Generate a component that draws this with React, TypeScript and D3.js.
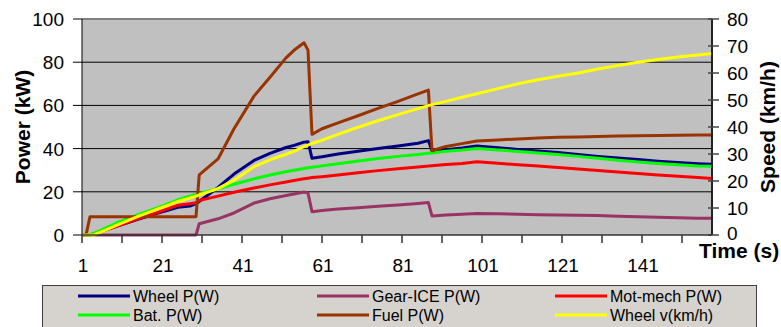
import React, { useEffect, useRef } from "react";
import * as d3 from "d3";

// time stamps (s) shared by all series
const seconds = [1, 2, 3, 4, 10, 15, 20, 25, 28, 29.5, 30.3, 35, 39, 44, 48, 52, 54, 56.5, 57.5, 58.5, 61, 65, 70, 75, 80, 85, 87.6, 88.5, 92, 96, 99.7, 105, 110, 115, 120, 125, 130, 135, 140, 145, 150, 155, 158.5];

// power series (kW)
const wheelP = [0, 0, 0, 0.6, 4.2, 7.3, 10.2, 12.8, 13.4, 14.5, 15.5, 22.0, 28.2, 34.5, 37.8, 40.5, 41.5, 43.0, 43.2, 35.5, 36.2, 37.5, 38.8, 40.0, 41.2, 42.5, 43.7, 39.0, 39.5, 40.3, 41.2, 40.4, 39.6, 38.9, 38.2, 37.3, 36.4, 35.6, 34.9, 34.2, 33.6, 33.0, 32.7];
const gearP = [0, 0, 0, 0, 0, 0, 0, 0, 0, 0, 5.2, 7.5, 10.2, 14.8, 16.8, 18.3, 19.0, 19.9, 19.4, 10.8, 11.3, 12.0, 12.6, 13.3, 13.9, 14.6, 15.0, 8.8, 9.3, 9.6, 10.0, 9.8, 9.6, 9.4, 9.3, 9.2, 9.0, 8.7, 8.4, 8.2, 8.0, 7.8, 7.7];
const motP = [0, 0, 0, 0.6, 4.3, 7.5, 10.5, 13.8, 14.5, 14.9, 16.0, 18.0, 19.8, 21.8, 23.2, 24.5, 25.2, 26.0, 26.3, 26.6, 27.0, 27.8, 28.8, 29.8, 30.7, 31.5, 31.9, 32.1, 32.6, 33.1, 33.9, 33.2, 32.5, 31.9, 31.3, 30.6, 29.9, 29.2, 28.5, 27.8, 27.2, 26.6, 26.2];
const batP = [0, 0, 0, 0.8, 5.8, 9.4, 12.7, 16.3, 18.0, 18.8, 19.2, 21.4, 23.5, 26.0, 27.8, 29.3, 30.0, 30.8, 31.1, 31.4, 32.0, 33.0, 34.3, 35.4, 36.4, 37.3, 37.8, 38.0, 38.8, 39.3, 40.0, 39.4, 38.7, 38.0, 37.3, 36.4, 35.5, 34.6, 33.8, 33.1, 32.5, 32.0, 31.8];
const fuelP = [0, 0, 8.5, 8.5, 8.5, 8.5, 8.5, 8.5, 8.5, 8.5, 27.8, 35.2, 49.2, 64.3, 73.0, 82.0, 85.5, 89.0, 85.6, 46.6, 49.2, 51.9, 55.2, 58.6, 61.9, 65.3, 67.1, 39.0, 41.0, 42.3, 43.5, 44.0, 44.5, 44.9, 45.2, 45.4, 45.6, 45.8, 46.0, 46.1, 46.2, 46.3, 46.3];

// speed series (km/h), secondary axis
const wheelV = [0, 0, 0, 0, 3.8, 6.9, 9.7, 12.4, 13.7, 14.4, 14.8, 17.2, 20.3, 25.3, 27.8, 29.9, 31.0, 32.7, 33.3, 33.9, 35.1, 37.3, 39.9, 42.3, 44.6, 46.8, 47.9, 48.3, 49.5, 51.0, 52.3, 54.2, 56.0, 57.5, 58.8, 60.0, 61.5, 62.8, 64.0, 65.0, 65.9, 66.7, 67.2];

const powerTicks = [0, 20, 40, 60, 80, 100];
const speedTicks = [0, 10, 20, 30, 40, 50, 60, 70, 80];
const timeLabels = [1, 21, 41, 61, 81, 101, 121, 141];
const timeTicks = [1, 11, 21, 31, 41, 51, 61, 71, 81, 91, 101, 111, 121, 131, 141, 151];

const series = [
  { name: "Wheel P(W)", values: wheelP, color: "#000080", axis: "power" },
  { name: "Gear-ICE P(W)", values: gearP, color: "#993366", axis: "power" },
  { name: "Mot-mech P(W)", values: motP, color: "#FF0000", axis: "power" },
  { name: "Bat. P(W)", values: batP, color: "#00FF00", axis: "power" },
  { name: "Fuel P(W)", values: fuelP, color: "#993300", axis: "power" },
  { name: "Wheel v(km/h)", values: wheelV, color: "#FFFF00", axis: "speed" },
];

// legend order in the box (row by row)
const legendOrder = ["Wheel P(W)", "Gear-ICE P(W)", "Mot-mech P(W)", "Bat. P(W)", "Fuel P(W)", "Wheel v(km/h)"];

function Chart() {
  const svgRef = useRef<SVGSVGElement>(null);

  useEffect(() => {
    const width = 781;
    const height = 327;
    const plot = { left: 82, right: 712, top: 19, bottom: 235 };
    const font = "'Liberation Sans', Arial, sans-serif";

    const svg = d3.select(svgRef.current);
    svg.selectAll("*").remove();
    svg.attr("width", width).attr("height", height).style("font-family", font);

    svg.append("rect").attr("width", width).attr("height", height).attr("fill", "#ffffff");

    const x = d3.scaleLinear().domain([1, 158.5]).range([plot.left, plot.right]);
    const yP = d3.scaleLinear().domain([0, 100]).range([plot.bottom, plot.top]);
    const yV = d3.scaleLinear().domain([0, 80]).range([plot.bottom, plot.top]);

    // plot background
    svg
      .append("rect")
      .attr("x", plot.left)
      .attr("y", plot.top)
      .attr("width", plot.right - plot.left)
      .attr("height", plot.bottom - plot.top)
      .attr("fill", "#C0C0C0");

    // gridlines
    svg
      .append("g")
      .selectAll("line")
      .data(powerTicks.filter((d) => d > 0 && d < 100))
      .join("line")
      .attr("x1", plot.left)
      .attr("x2", plot.right)
      .attr("y1", (d) => yP(d))
      .attr("y2", (d) => yP(d))
      .attr("stroke", "#000")
      .attr("stroke-width", 1);

    // top border
    svg
      .append("line")
      .attr("x1", plot.left)
      .attr("x2", plot.right)
      .attr("y1", plot.top)
      .attr("y2", plot.top)
      .attr("stroke", "#808080")
      .attr("stroke-width", 2);

    // series lines
    const linesG = svg.append("g");
    series.forEach((s) => {
      const yScale = s.axis === "power" ? yP : yV;
      const line = d3
        .line<number>()
        .x((_, i) => x(seconds[i]))
        .y((d) => yScale(d));
      linesG
        .append("path")
        .attr("d", line(s.values))
        .attr("fill", "none")
        .attr("stroke", s.color)
        .attr("stroke-width", 3)
        .attr("stroke-linejoin", "round");
    });

    // left axis
    const leftG = svg.append("g");
    leftG
      .append("line")
      .attr("x1", plot.left)
      .attr("x2", plot.left)
      .attr("y1", plot.top)
      .attr("y2", plot.bottom)
      .attr("stroke", "#000");
    leftG
      .selectAll("line.tick")
      .data(powerTicks)
      .join("line")
      .attr("class", "tick")
      .attr("x1", plot.left - 9)
      .attr("x2", plot.left)
      .attr("y1", (d) => yP(d))
      .attr("y2", (d) => yP(d))
      .attr("stroke", "#000");
    leftG
      .selectAll("text")
      .data(powerTicks)
      .join("text")
      .attr("x", 64)
      .attr("y", (d) => yP(d) + 7)
      .attr("text-anchor", "end")
      .attr("font-size", 19)
      .text((d) => d);

    // right axis
    const rightG = svg.append("g");
    rightG
      .append("line")
      .attr("x1", plot.right)
      .attr("x2", plot.right)
      .attr("y1", plot.top)
      .attr("y2", plot.bottom)
      .attr("stroke", "#222")
      .attr("stroke-width", 2);
    rightG
      .selectAll("line.tick")
      .data(speedTicks)
      .join("line")
      .attr("class", "tick")
      .attr("x1", plot.right - 4)
      .attr("x2", plot.right + 7)
      .attr("y1", (d) => yV(d))
      .attr("y2", (d) => yV(d))
      .attr("stroke", "#444")
      .attr("stroke-width", 1.5);
    rightG
      .selectAll("text")
      .data(speedTicks)
      .join("text")
      .attr("x", 727)
      .attr("y", (d) => yV(d) + (d === 0 ? 5 : 7))
      .attr("text-anchor", "start")
      .attr("font-size", 19)
      .text((d) => d);

    // bottom axis
    const bottomG = svg.append("g");
    bottomG
      .append("line")
      .attr("x1", plot.left)
      .attr("x2", plot.right)
      .attr("y1", plot.bottom)
      .attr("y2", plot.bottom)
      .attr("stroke", "#333")
      .attr("stroke-width", 1.5);
    bottomG
      .selectAll("line.tick")
      .data(timeTicks)
      .join("line")
      .attr("class", "tick")
      .attr("x1", (d) => x(d))
      .attr("x2", (d) => x(d))
      .attr("y1", plot.bottom)
      .attr("y2", plot.bottom + 8)
      .attr("stroke", "#333")
      .attr("stroke-width", 1.5);
    bottomG
      .selectAll("text")
      .data(timeLabels)
      .join("text")
      .attr("x", (d) => x(d) + 1)
      .attr("y", 272)
      .attr("text-anchor", "middle")
      .attr("font-size", 19)
      .text((d) => d);

    // axis titles
    svg
      .append("text")
      .attr("transform", `translate(30, ${(plot.top + plot.bottom) / 2}) rotate(-90)`)
      .attr("text-anchor", "middle")
      .attr("font-size", 21)
      .attr("font-weight", "bold")
      .text("Power (kW)");
    svg
      .append("text")
      .attr("transform", `translate(775, ${(plot.top + plot.bottom) / 2}) rotate(-90)`)
      .attr("text-anchor", "middle")
      .attr("font-size", 21)
      .attr("font-weight", "bold")
      .text("Speed (km/h)");
    svg
      .append("text")
      .attr("x", 699)
      .attr("y", 258)
      .attr("font-size", 21)
      .attr("font-weight", "bold")
      .text("Time (s)");

    // legend
    const legend = svg.append("g");
    legend
      .append("rect")
      .attr("x", 42.5)
      .attr("y", 285.5)
      .attr("width", 714)
      .attr("height", 60)
      .attr("fill", "#D6D3CE")
      .attr("stroke", "#404040")
      .attr("stroke-width", 1);
    const colX = [78, 317, 555];
    const rowY = [296, 315];
    legendOrder.forEach((name, i) => {
      const s = series.find((d) => d.name === name)!;
      const cx = colX[i % 3];
      const cy = rowY[Math.floor(i / 3)];
      legend
        .append("line")
        .attr("x1", cx)
        .attr("x2", cx + 52)
        .attr("y1", cy)
        .attr("y2", cy)
        .attr("stroke", s.color)
        .attr("stroke-width", 3);
      legend
        .append("text")
        .attr("x", cx + 55)
        .attr("y", cy + 6)
        .attr("font-size", 16)
        .text(s.name);
    });
  }, []);

  return <svg ref={svgRef} style={{ position: "absolute", left: 0, top: 0 }} />;
}

export default function App() {
  return <Chart />;
}
